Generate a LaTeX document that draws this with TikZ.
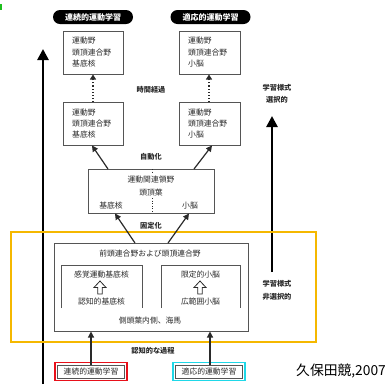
\documentclass[tikz,border=0pt]{standalone}
\usepackage{fontspec}
\newfontfamily\jp{Noto Sans CJK JP}
\usetikzlibrary{arrows.meta}
\definecolor{ink}{HTML}{2A2A2A}
\definecolor{boxline}{HTML}{555555}
\definecolor{orangeframe}{HTML}{F5B800}
\definecolor{redframe}{HTML}{E8101A}
\definecolor{cyanframe}{HTML}{1FD8E8}
\definecolor{greenmark}{HTML}{1DBF1D}
\tikzset{
  lbl/.style={font=\jp\fontsize{7.8}{9}\selectfont, text=ink, inner sep=0pt},
  blbl/.style={font=\jp\bfseries\fontsize{7.2}{9}\selectfont, text=ink, inner sep=0pt},
  areabox/.style={draw=boxline, line width=0.7pt, fill=white},
  pill/.style={fill=black, rounded corners=7pt, minimum width=80pt, minimum height=14pt, inner sep=0pt,
    font=\jp\bfseries\fontsize{8}{9}\selectfont, text=white},
  linkarrow/.style={draw=ink, line width=1.2pt, -{Triangle[length=6pt,width=6pt]}},
  dotarrow/.style={draw=ink, line width=1.1pt, dotted, -{Triangle[length=5pt,width=6pt]}},
  bigarrow/.style={draw=black, line width=2.6pt, -{Triangle[length=11pt,width=11pt]}},
  hollow/.style={draw=ink, line width=0.8pt, fill=white},
}
\begin{document}
\begin{tikzpicture}[x=1pt,y=-1pt]
\useasboundingbox (0,0) rectangle (385,384);
\fill[white] (0,0) rectangle (385,384);
\fill[greenmark] (0,4) rectangle (2.2,10);

% big side arrows
\coordinate (lbot) at (43,384);
\coordinate (ltop) at (43,49);
\draw[bigarrow] (lbot) -- (ltop);
\coordinate (rbot) at (272,272);
\coordinate (rtop) at (272,116);
\draw[bigarrow] (rbot) -- (rtop);

% orange frame
\draw[orangeframe, line width=1.3pt] (11,232) rectangle (316,342);

% top pills
\node[pill] (pillL) at (93,17) {連続的運動学習};
\node[pill] (pillR) at (210.5,17) {適応的運動学習};

% top boxes
\draw[areabox] (63,31) rectangle (123,74);
\node[lbl, anchor=west] (t1a) at (72,41) {運動野};
\node[lbl, anchor=west] (t1b) at (72,52.5) {頭頂連合野};
\node[lbl, anchor=west] (t1c) at (72,64) {基底核};
\draw[areabox] (179,31) rectangle (240,74);
\node[lbl, anchor=west] (t2a) at (188,41) {運動野};
\node[lbl, anchor=west] (t2b) at (188,52.5) {頭頂連合野};
\node[lbl, anchor=west] (t2c) at (188,64) {小脳};
\coordinate (topL) at (93,74.5);
\coordinate (topR) at (209,74.5);

% middle boxes
\draw[areabox] (63,102) rectangle (123,145);
\node[lbl, anchor=west] (m1a) at (72,113) {運動野};
\node[lbl, anchor=west] (m1b) at (72,124) {頭頂連合野};
\node[lbl, anchor=west] (m1c) at (72,135) {基底核};
\draw[areabox] (179,102) rectangle (240,145);
\node[lbl, anchor=west] (m2a) at (188,113) {運動野};
\node[lbl, anchor=west] (m2b) at (188,124) {頭頂連合野};
\node[lbl, anchor=west] (m2c) at (188,135) {小脳};
\coordinate (midLtop) at (93,102);
\coordinate (midRtop) at (209,102);
\coordinate (midLbot) at (92,145.5);
\coordinate (midRbot) at (212,145.5);

\draw[dotarrow] (midLtop) -- (topL);
\draw[dotarrow] (midRtop) -- (topR);
\node[blbl] (time) at (151,90) {時間経過};

% centre box
\draw[areabox] (88,169) rectangle (214,213);
\node[lbl] (c1) at (151,180) {運動関連領野};
\node[lbl] (c2) at (151,192.5) {頭頂葉};
\node[lbl] (c3) at (111,205.5) {基底核};
\node[lbl] (c4) at (190,205.5) {小脳};
\draw[ink, line width=0.6pt, dotted] (152,169) -- (152,173);
\draw[ink, line width=0.6pt, dotted] (152,198) -- (152,213);
\coordinate (cenTL) at (108,169);
\coordinate (cenTR) at (194,169);
\coordinate (cenBL) at (115,213.5);
\coordinate (cenBR) at (189,213.5);

\draw[linkarrow] (cenTL) -- (midLbot);
\draw[linkarrow] (cenTR) -- (midRbot);
\node[blbl] (auto) at (151,157) {自動化};

% bottom box
\draw[areabox] (54,243) rectangle (248,331);
\node[lbl] (b0) at (150,253.5) {前頭連合野および頭頂連合野};
\draw[boxline, line width=0.7pt] (61,308) -- (61,265) -- (142,265) -- (142,308);
\draw[boxline, line width=0.7pt] (161,308) -- (161,265) -- (240,265) -- (240,308);
\node[lbl] (b1) at (101.5,275) {感覚運動基底核};
\node[lbl] (b2) at (200.5,275) {限定的小脳};
\node[lbl] (b3) at (101.5,302) {認知的基底核};
\node[lbl] (b4) at (200.5,302) {広範囲小脳};
\draw[hollow] (100,281) -- (106,287.5) -- (102.2,287.5) -- (102.2,294) -- (97.8,294) -- (97.8,287.5) -- (94,287.5) -- cycle;
\draw[hollow] (200,281) -- (206,287.5) -- (202.2,287.5) -- (202.2,294) -- (197.8,294) -- (197.8,287.5) -- (194,287.5) -- cycle;
\node[lbl] (b5) at (150,320.5) {側頭葉内側、海馬};
\coordinate (botTL) at (135,243);
\coordinate (botTR) at (168,243);
\coordinate (botBL) at (91,331.5);
\coordinate (botBR) at (210,331.5);

\draw[linkarrow] (botTL) -- (cenBL);
\draw[linkarrow] (botTR) -- (cenBR);
\node[blbl] (fix) at (151,226) {固定化};

% bottom labels
\draw[redframe, line width=1.8pt] (55,362.5) rectangle (127,380.5);
\draw[boxline, line width=0.6pt] (57.5,365) rectangle (124.5,378);
\node[lbl] (s1) at (91,371.5) {連続的運動学習};
\draw[cyanframe, line width=1.8pt] (173,362.5) rectangle (245,380.5);
\draw[boxline, line width=0.6pt] (175.5,365) rectangle (242.5,378);
\node[lbl] (s2) at (209,371.5) {適応的運動学習};
\coordinate (s1top) at (91,365);
\coordinate (s2top) at (210,365);
\draw[linkarrow] (s1top) -- (botBL);
\draw[linkarrow] (s2top) -- (botBR);
\node[blbl] (cog) at (153,351) {認知的な過程};

% side labels
\node[blbl] (sel1) at (277,88) {学習様式};
\node[blbl] (sel2) at (277,100) {選択的};
\node[blbl] (nsel1) at (277,284) {学習様式};
\node[blbl] (nsel2) at (277,297) {非選択的};

\node[font=\jp\fontsize{13.8}{15}\selectfont, text=black, inner sep=0pt, anchor=west] (cite) at (296,371) {久保田競,2007};
\end{tikzpicture}
\end{document}
